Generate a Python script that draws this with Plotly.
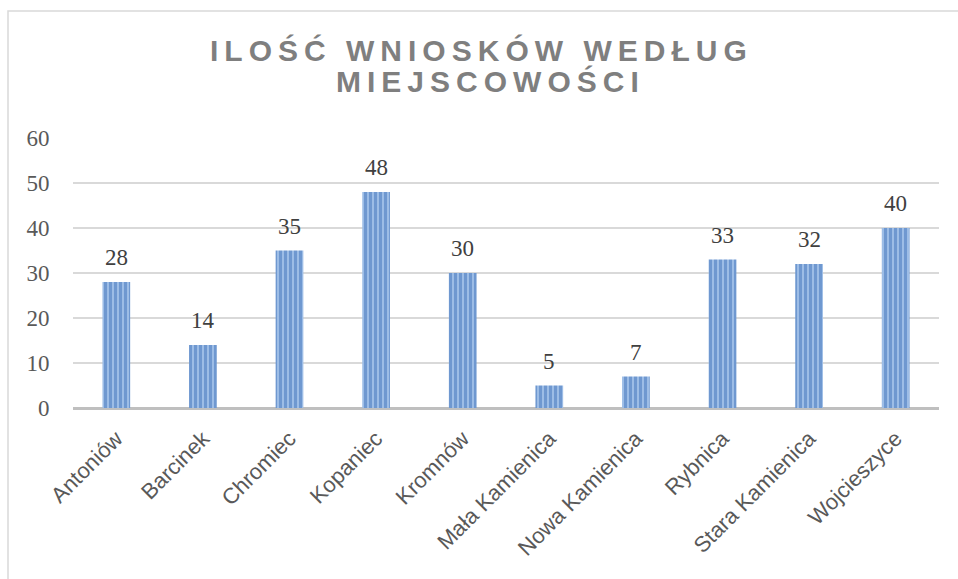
import plotly.graph_objects as go

categories = ["Antoniów", "Barcinek", "Chromiec", "Kopaniec", "Kromnów",
              "Mała Kamienica", "Nowa Kamienica", "Rybnica", "Stara Kamienica", "Wojcieszyce"]
values = [28, 14, 35, 48, 30, 5, 7, 33, 32, 40]
y_ticks = [0, 10, 20, 30, 40, 50, 60]
title_lines = ["ILOŚĆ WNIOSKÓW WEDŁUG", "MIEJSCOWOŚCI"]

THIN = "\u2009"
SERIF = "'Liberation Serif', 'Times New Roman', Times, 'DejaVu Serif', serif"
SANS = "'Liberation Sans', Arial, sans-serif"

def spaced(s):
    return THIN.join(list(s))

W, H = 958, 579
ml, mr, mt, mb = 73, 19, 138, 171

fig = go.Figure()
fig.add_trace(go.Bar(
    x=categories, y=values,
    marker=dict(
        color="#9dbde6",
        line=dict(width=0),
        pattern=dict(shape="|", fgcolor="#4273ba", bgcolor="#9dbde6", size=5, solidity=0.6),
    ),
    hoverinfo="x+y",
))

annotations = []
for c, v in zip(categories, values):
    annotations.append(dict(
        x=c, y=v, xref="x", yref="y", text=str(v), showarrow=False,
        yanchor="bottom", yshift=10,
        font=dict(family=SERIF, size=23, color="#404040"),
    ))

ph = H - mt - mb
pw = W - ml - mr
title_centers = [(478, 50), (487, 81)]
for line, (cx, cy) in zip(title_lines, title_centers):
    annotations.append(dict(
        x=(cx - ml) / pw, y=(H - mb - cy) / ph, xref="paper", yref="paper",
        text="<b>" + spaced(line) + "</b>", showarrow=False,
        xanchor="center", yanchor="middle",
        font=dict(family=SANS, size=30, color="#7f7f7f"),
    ))

# frame border (chart area outline)
shapes = [dict(
    type="rect", xref="paper", yref="paper",
    x0=(8 - ml) / pw, x1=(W + 5 - ml) / pw,
    y0=(H - mb - (H + 5)) / ph, y1=(H - mb - 11) / ph,
    line=dict(color="#d9d9d9", width=1.5), fillcolor="rgba(0,0,0,0)", layer="below",
)]

fig.update_layout(
    width=W, height=H,
    margin=dict(l=ml, r=mr, t=mt, b=mb),
    paper_bgcolor="white", plot_bgcolor="white",
    showlegend=False,
    bargap=0.68,
    annotations=annotations,
    shapes=shapes,
    xaxis=dict(
        tickangle=-45,
        tickfont=dict(family=SANS, size=22, color="#595959"),
        showgrid=False, showline=False, zeroline=False,
        ticks="outside", ticklen=8, tickcolor="rgba(0,0,0,0)",
        fixedrange=True,
    ),
    yaxis=dict(
        range=[0, 60], tickvals=y_ticks,
        tickfont=dict(family=SERIF, size=23, color="#595959"),
        showgrid=True, gridcolor="#d9d9d9", gridwidth=1.5,
        zeroline=True, zerolinecolor="#bfbfbf", zerolinewidth=3,
        showline=False,
        ticks="outside", ticklen=18, tickcolor="rgba(0,0,0,0)",
        fixedrange=True,
    ),
)

fig.write_html("out.html", config={"displayModeBar": False},
               post_script="document.body.style.margin='0';document.body.style.overflow='hidden';")
